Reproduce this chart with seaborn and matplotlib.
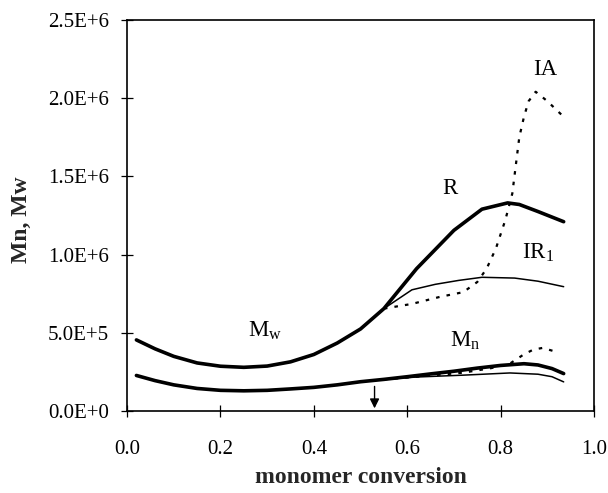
import matplotlib
matplotlib.use("Agg")
import matplotlib.pyplot as plt
from matplotlib.ticker import FuncFormatter
import pandas as pd
import seaborn as sns

# Weight-average molecular weight, common trunk and the three branches
conv_R = [0.02, 0.06, 0.10, 0.15, 0.20, 0.25, 0.30, 0.35, 0.40, 0.45, 0.50, 0.55,
          0.62, 0.70, 0.76, 0.815, 0.84, 0.88, 0.935]
mw_R = [4.55e5, 3.98e5, 3.50e5, 3.08e5, 2.87e5, 2.80e5, 2.88e5, 3.15e5, 3.62e5, 4.35e5,
        5.25e5, 6.55e5, 9.10e5, 11.55e5, 12.90e5, 13.30e5, 13.20e5, 12.75e5, 12.10e5]

conv_IR1 = [0.55, 0.61, 0.66, 0.71, 0.76, 0.83, 0.88, 0.935]
mw_IR1 = [6.55e5, 7.75e5, 8.10e5, 8.35e5, 8.55e5, 8.50e5, 8.30e5, 7.95e5]

conv_IA = [0.55, 0.61, 0.67, 0.72, 0.75, 0.77, 0.79, 0.81, 0.825, 0.84, 0.85, 0.86,
           0.875, 0.90, 0.935]
mw_IA = [6.55e5, 6.85e5, 7.30e5, 7.60e5, 8.25e5, 9.10e5, 10.4e5, 12.2e5, 13.9e5,
         17.5e5, 18.8e5, 19.8e5, 20.4e5, 19.8e5, 18.8e5]

# Number-average molecular weight
conv_n_R = [0.02, 0.06, 0.10, 0.15, 0.20, 0.25, 0.30, 0.35, 0.40, 0.45, 0.50, 0.55,
            0.60, 0.65, 0.70, 0.75, 0.80, 0.85, 0.88, 0.91, 0.935]
mn_R = [2.28e5, 1.95e5, 1.68e5, 1.45e5, 1.33e5, 1.30e5, 1.33e5, 1.42e5, 1.52e5, 1.68e5,
        1.88e5, 2.03e5, 2.20e5, 2.38e5, 2.55e5, 2.75e5, 2.92e5, 3.03e5, 2.95e5, 2.72e5,
        2.40e5]

conv_n_IR1 = [0.55, 0.62, 0.72, 0.82, 0.88, 0.91, 0.935]
mn_IR1 = [2.03e5, 2.18e5, 2.30e5, 2.44e5, 2.36e5, 2.20e5, 1.87e5]

conv_n_IA = [0.55, 0.62, 0.72, 0.78, 0.82, 0.85, 0.87, 0.89, 0.92]
mn_IA = [2.03e5, 2.20e5, 2.46e5, 2.75e5, 3.04e5, 3.63e5, 3.93e5, 4.04e5, 3.78e5]

x_ticks = [0.0, 0.2, 0.4, 0.6, 0.8, 1.0]
y_ticks = [0, 5e5, 1e6, 1.5e6, 2e6, 2.5e6]
onset_conversion = 0.53

sns.set_style("ticks")
plt.rcParams["font.family"] = ["Liberation Serif", "DejaVu Serif"]
plt.rcParams["mathtext.fontset"] = "custom"
plt.rcParams["mathtext.rm"] = "Liberation Serif"
plt.rcParams["mathtext.it"] = "Liberation Serif:italic"

fig = plt.figure(figsize=(6.08, 4.93), dpi=100)
ax = fig.add_axes([0.209, 0.166, 0.768, 0.794])

thick = dict(color="black", linewidth=2.6)
thin = dict(color="black", linewidth=1.1)
dotted = dict(color="black", linewidth=1.6, linestyle=(0, (1.6, 3.2)))

def draw(x, y, style):
    df = pd.DataFrame({"conversion": x, "M": y})
    sns.lineplot(data=df, x="conversion", y="M", ax=ax, sort=False,
                 estimator=None, **style)

draw(conv_R, mw_R, thick)
draw(conv_IR1, mw_IR1, thin)
draw(conv_IA, mw_IA, dotted)
draw(conv_n_IR1, mn_IR1, thin)
draw(conv_n_IA, mn_IA, dotted)
draw(conv_n_R, mn_R, thick)

ax.annotate("", xy=(onset_conversion, 0.18e5), xytext=(onset_conversion, 1.58e5),
            arrowprops=dict(arrowstyle="-|>", color="black", lw=1.0,
                            mutation_scale=14, shrinkA=0, shrinkB=0))

label_kw = dict(fontsize=16.5, ha="center", va="center", color="black")
ax.text(0.896, 2.18e6, "IA", **label_kw)
ax.text(0.692, 1.42e6, "R", **label_kw)
ax.text(0.88, 1.01e6, r"IR$_\mathregular{1}$", **label_kw)
ax.text(0.295, 5.15e5, r"M$_\mathregular{w}$", **label_kw)
ax.text(0.725, 4.50e5, r"M$_\mathregular{n}$", **label_kw)

ax.set_xlim(0, 1)
ax.set_ylim(0, 2.5e6)
ax.set_xticks(x_ticks)
ax.set_yticks(y_ticks)
ax.xaxis.set_major_formatter(FuncFormatter(lambda v, p: f"{v:.1f}"))

def sci(v, p):
    if v == 0:
        return "0.0E+0"
    e = len(str(int(v))) - 1
    return f"{v / 10**e:.1f}E+{e}"

ax.yaxis.set_major_formatter(FuncFormatter(sci))
ax.tick_params(axis="both", direction="inout", length=9, width=0.9, labelsize=15,
               colors="black")
ax.tick_params(axis="x", pad=16)
ax.tick_params(axis="y", pad=8.5)

for side in ["left", "bottom", "top", "right"]:
    ax.spines[side].set_visible(True)
    ax.spines[side].set_color("black")
    ax.spines[side].set_linewidth(1.2)

ax.set_xlabel("monomer conversion", fontsize=17, fontweight="bold")
ax.set_ylabel("Mn, Mw", fontsize=17, fontweight="bold")
ax.xaxis.set_label_coords(0.5, -0.143, transform=ax.transAxes)
ax.yaxis.set_label_coords(-0.203, 0.49, transform=ax.transAxes)

fig.savefig("out.png", dpi=100, facecolor="white")
